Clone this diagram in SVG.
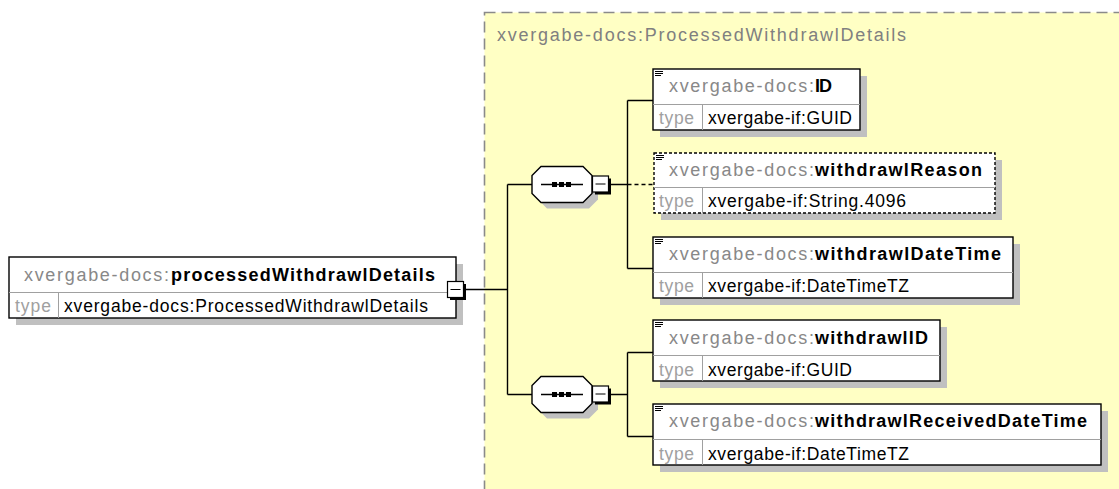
<svg xmlns="http://www.w3.org/2000/svg" xmlns:xlink="http://www.w3.org/1999/xlink" width="1119" height="489" viewBox="0 0 1119 489">
<style>
.bg{fill:#ffffff}
.ct{fill:#FFFFC4;stroke:#8a8a8a;stroke-width:1.6;stroke-dasharray:11 6}
.sh{fill:#c0c0c0}
.box{fill:#fff;stroke:#000;stroke-width:1.4}
.dbox{fill:#fff;stroke:#000;stroke-width:1.4;stroke-dasharray:3 2}
.dv{stroke:#a0a0a0;stroke-width:1;fill:none}
.f{font-family:"Liberation Sans",Arial,sans-serif;font-size:17.5px}
.h{font-size:18px}
.g{fill:#888888}
.ttl{fill:#808080;font-size:18px}
.b{font-weight:bold;fill:#000}
.tl{fill:#a0a0a0}
.v{fill:#000}
.con{stroke:#000;stroke-width:1.4;fill:none}
.dcon{stroke:#000;stroke-width:1.4;fill:none;stroke-dasharray:4 3}
.ic{stroke:#000;stroke-width:1;fill:none}
.oct{fill:#fff;stroke:#000;stroke-width:1.4}
.btn{fill:#fff;stroke:#000;stroke-width:1.2}
.bsh{fill:#000}
</style>
<defs>
<g id="seqShape">
<polygon class="sh" points="547,-12 589,-12 598,-3 598,15 589,24 547,24 538,15 538,-3"/>
<polygon class="oct" points="541,-18 583,-18 592,-9 592,9 583,18 541,18 532,9 532,-9"/>
<line class="con" x1="541" y1="0" x2="583" y2="0"/>
<rect x="552" y="-2.5" width="5" height="5" fill="#000"/>
<rect x="559" y="-2.5" width="5" height="5" fill="#000"/>
<rect x="566" y="-2.5" width="5" height="5" fill="#000"/>
<rect class="bsh" x="595" y="-6" width="16" height="16"/>
<rect class="btn" x="592.5" y="-8.5" width="16" height="16"/>
<line class="ic" x1="595.5" y1="-0.5" x2="605.5" y2="-0.5"/>
</g>
<path id="icon" class="ic" d="M2,2.5 H10 M2,4.5 H10 M2,6.5 H8"/>
</defs>
<rect class="bg" x="0" y="0" width="1119" height="489"/>
<g id="container">
<rect class="ct" x="484.5" y="12.5" width="700" height="500"/>
<text class="f ttl" x="497" y="41" textLength="409">xvergabe-docs:ProcessedWithdrawlDetails</text>
</g>
<g id="connectors">
<path class="con" d="M464,289.5 H507.5 M507.5,184.5 V394.5 M507.5,184.5 H532 M507.5,394.5 H532"/>
<path class="con" d="M609,184.5 H627.5 M627.5,100.5 V268.5 M627.5,100.5 H653 M627.5,268.5 H653"/>
<path class="dcon" d="M627.5,184.5 H654"/>
<path class="con" d="M609,394.5 H627.5 M627.5,352.5 V436.5 M627.5,352.5 H653 M627.5,436.5 H653"/>
</g>
<g id="processedWithdrawlDetails">
<rect class="sh" x="16" y="264" width="447" height="61"/>
<rect class="box" x="9" y="257" width="447" height="61"/>
<line class="dv" x1="9" y1="292.5" x2="456" y2="292.5"/>
<line class="dv" x1="58.5" y1="292.5" x2="58.5" y2="318"/>
<text class="f h g" x="24" y="281" textLength="145">xvergabe-docs:</text>
<text class="f h b" x="171" y="281" textLength="264">processedWithdrawlDetails</text>
<text class="f tl" x="15" y="312" textLength="36">type</text>
<text class="f v" x="64" y="312" textLength="364">xvergabe-docs:ProcessedWithdrawlDetails</text>
<rect class="bsh" x="450" y="284" width="16" height="16"/>
<rect class="btn" x="447.5" y="281.5" width="16" height="16"/>
<line class="ic" x1="450.5" y1="289.5" x2="460.5" y2="289.5"/>
</g>
<g id="seq1" transform="translate(0,184.5)"><use xlink:href="#seqShape" href="#seqShape"/></g>
<g id="seq2" transform="translate(0,394.5)"><use xlink:href="#seqShape" href="#seqShape"/></g>
<g id="ID">
<rect class="sh" x="660" y="76" width="207" height="61"/>
<rect class="box" x="653" y="69" width="207" height="61"/>
<line class="dv" x1="653" y1="104.5" x2="860" y2="104.5"/>
<line class="dv" x1="702.5" y1="104.5" x2="702.5" y2="130"/>
<use href="#icon" xlink:href="#icon" transform="translate(653,69)"/>
<text class="f h g" x="669" y="92" textLength="145">xvergabe-docs:</text>
<text class="f h b" x="815" y="92" textLength="17">ID</text>
<text class="f tl" x="659" y="124" textLength="35">type</text>
<text class="f v" x="708" y="124" textLength="144">xvergabe-if:GUID</text>
</g>
<g id="withdrawlReason">
<rect class="sh" x="661" y="160" width="341" height="60"/>
<rect class="dbox" x="654" y="153" width="341" height="60"/>
<line class="dv" x1="654" y1="187.5" x2="995" y2="187.5"/>
<line class="dv" x1="702.5" y1="187.5" x2="702.5" y2="213"/>
<use href="#icon" xlink:href="#icon" transform="translate(654,153)"/>
<text class="f h g" x="669" y="176" textLength="145">xvergabe-docs:</text>
<text class="f h b" x="815" y="176" textLength="167">withdrawlReason</text>
<text class="f tl" x="659" y="207" textLength="35">type</text>
<text class="f v" x="708" y="207" textLength="198">xvergabe-if:String.4096</text>
</g>
<g id="withdrawlDateTime">
<rect class="sh" x="660" y="244" width="360" height="61"/>
<rect class="box" x="653" y="237" width="360" height="61"/>
<line class="dv" x1="653" y1="272.5" x2="1013" y2="272.5"/>
<line class="dv" x1="702.5" y1="272.5" x2="702.5" y2="298"/>
<use href="#icon" xlink:href="#icon" transform="translate(653,237)"/>
<text class="f h g" x="669" y="260" textLength="145">xvergabe-docs:</text>
<text class="f h b" x="815" y="260" textLength="186">withdrawlDateTime</text>
<text class="f tl" x="659" y="292" textLength="35">type</text>
<text class="f v" x="708" y="292" textLength="201">xvergabe-if:DateTimeTZ</text>
</g>
<g id="withdrawlID">
<rect class="sh" x="660" y="327" width="287" height="61"/>
<rect class="box" x="653" y="320" width="287" height="61"/>
<line class="dv" x1="653" y1="355.5" x2="940" y2="355.5"/>
<line class="dv" x1="702.5" y1="355.5" x2="702.5" y2="381"/>
<use href="#icon" xlink:href="#icon" transform="translate(653,320)"/>
<text class="f h g" x="669" y="344" textLength="145">xvergabe-docs:</text>
<text class="f h b" x="815" y="344" textLength="113">withdrawlID</text>
<text class="f tl" x="659" y="376" textLength="35">type</text>
<text class="f v" x="708" y="376" textLength="144">xvergabe-if:GUID</text>
</g>
<g id="withdrawlReceivedDateTime">
<rect class="sh" x="660" y="411" width="448" height="61"/>
<rect class="box" x="653" y="404" width="448" height="61"/>
<line class="dv" x1="653" y1="439.5" x2="1101" y2="439.5"/>
<line class="dv" x1="702.5" y1="439.5" x2="702.5" y2="465"/>
<use href="#icon" xlink:href="#icon" transform="translate(653,404)"/>
<text class="f h g" x="669" y="427" textLength="145">xvergabe-docs:</text>
<text class="f h b" x="815" y="427" textLength="272">withdrawlReceivedDateTime</text>
<text class="f tl" x="659" y="460" textLength="35">type</text>
<text class="f v" x="708" y="460" textLength="201">xvergabe-if:DateTimeTZ</text>
</g>
</svg>
